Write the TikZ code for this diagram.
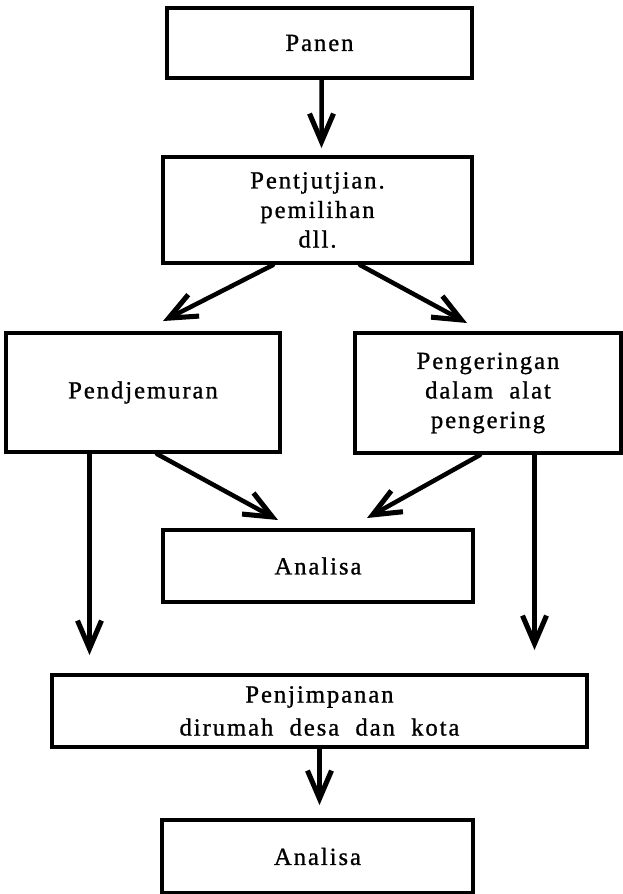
\documentclass[tikz,border=0pt]{standalone}
\usepackage{fontspec}
\setmainfont{Liberation Serif}[LetterSpace=8, WordSpace=2, FakeBold=1]
\usetikzlibrary{arrows.meta}

\begin{document}
\begin{tikzpicture}[x=0.025cm, y=-0.025cm, >={Straight Barb[length=7mm, width=6mm, line width=3.6pt]},
        kotak/.style={draw, line width=2.8pt, align=center, inner sep=0pt, font=\fontsize{17.5}{21}\selectfont},
        panah/.style={->, line width=3.2pt, line join=round, line cap=round}]
        \useasboundingbox (0,0) rectangle (623,894);

        % Kotak
        \node[kotak, minimum width=7.625cm, minimum height=1.75cm] (panen) at (319.5, 43) {Panen};
        \node[kotak, minimum width=7.725cm, minimum height=2.65cm] (sortir) at (317.5, 210) {Pentjutjian.\\pemilihan\\dll.};
        \node[kotak, minimum width=6.85cm, minimum height=2.975cm] (jemur) at (143, 392.5) {Pendjemuran};
        \node[kotak, minimum width=6.65cm, minimum height=3.0cm] (kering) at (488, 393) {Pengeringan\\dalam alat\\pengering};
        \node[kotak, minimum width=7.75cm, minimum height=1.8cm] (analisaA) at (318, 566) {Analisa};
        \node[kotak, minimum width=13.375cm, minimum height=1.8cm, font=\fontsize{17.5}{23.5}\selectfont] (simpan) at (319.5, 711) {Penjimpanan\\dirumah desa dan kota};
        \node[kotak, minimum width=7.775cm, minimum height=1.825cm] (analisaB) at (317.5, 856.5) {Analisa};

        % Panah
        \draw[panah] ([xshift=0.05cm]panen.south) -- ([xshift=0.1cm, yshift=0.175cm]sortir.north);
        \draw[panah] ([xshift=-1.1125cm]sortir.south) -- ([xshift=0.5cm, yshift=0.25cm]jemur.north);
        \draw[panah] ([xshift=1.0625cm]sortir.south) -- ([xshift=-0.525cm, yshift=0.2cm]kering.north);

        % ke analisa dan ke penjimpanan
        \coordinate (kiri) at ([xshift=-1.3375cm]jemur.south);
        \coordinate (kanan) at ([xshift=1.1625cm]kering.south);
        \draw[panah, shorten >=0.45cm] (kiri) -- (kiri |- simpan.north);
        \draw[panah, shorten >=0.575cm] (kanan) -- (kanan |- simpan.north);
        \draw[panah] ([xshift=0.35cm]jemur.south) -- ([xshift=-1cm, yshift=0.2cm]analisaA.north);
        \draw[panah] ([xshift=-0.2cm]kering.south) -- ([xshift=1.225cm, yshift=0.25cm]analisaA.north);

        \draw[panah, shorten >=0.325cm] (simpan.south) -- (simpan.south |- analisaB.north);
\end{tikzpicture}
\end{document}
